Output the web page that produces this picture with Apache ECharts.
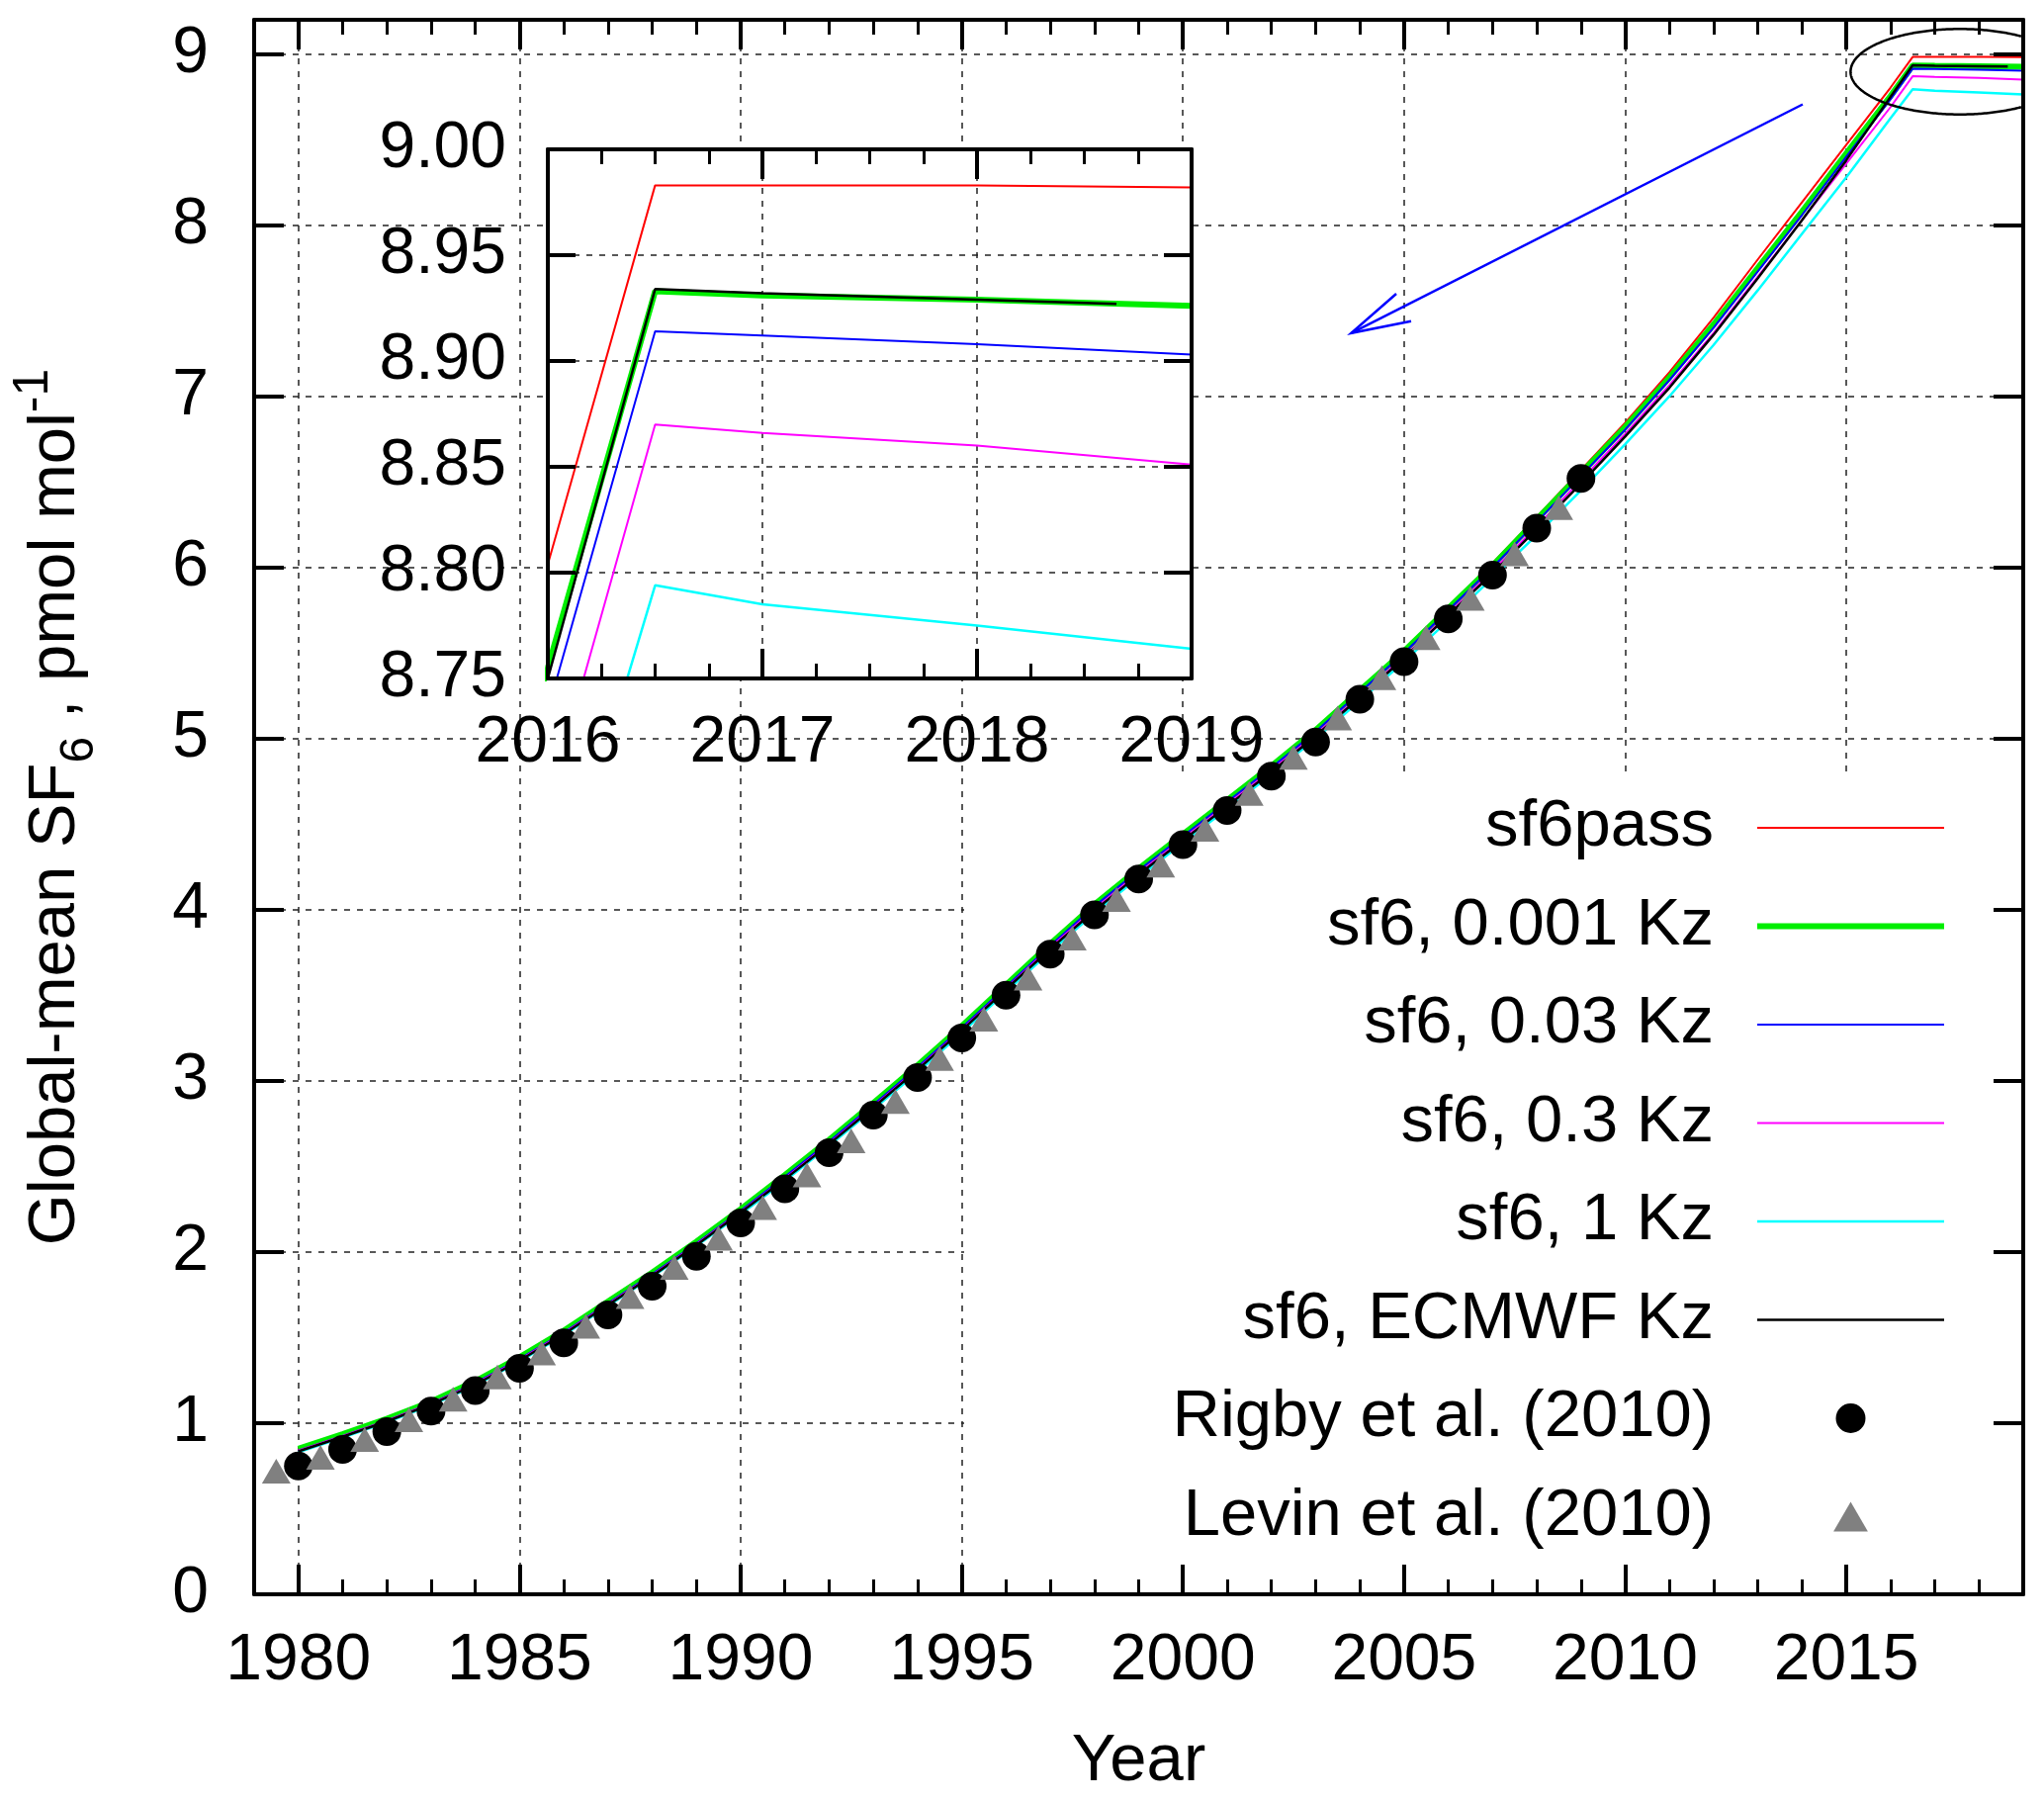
<!DOCTYPE html>
<html>
<head>
<meta charset="utf-8">
<script src="https://cdn.jsdelivr.net/npm/echarts@6.0.0/dist/echarts.min.js"></script>
<style>
html,body{margin:0;padding:0;background:#ffffff;}
#chart{width:2067px;height:1821px;}
</style>
</head>
<body>
<div id="chart"></div>
<script>
// ---------------- data ----------------
const modelYears = [1980,1981,1982,1983,1984,1985,1986,1987,1988,1989,
  1990,1991,1992,1993,1994,1995,1996,1997,1998,1999,
  2000,2001,2002,2003,2004,2005,2006,2007,2008,2009,
  2010,2011,2012,2013,2014,2015,2016,2016.5,2017,2018,2019];
const ecmwfYears = [1980,1981,1982,1983,1984,1985,1986,1987,1988,1989,
  1990,1991,1992,1993,1994,1995,1996,1997,1998,1999,
  2000,2001,2002,2003,2004,2005,2006,2007,2008,2009,
  2010,2011,2012,2013,2014,2015,2016,2016.5,2017,2018,2018.65];

const sf6pass = [0.845,0.93,1.02,1.12,1.24,1.38,1.535,1.705,1.875,2.055,
  2.245,2.445,2.65,2.865,3.085,3.315,3.555,3.795,4.025,4.235,
  4.435,4.635,4.84,5.05,5.28,5.515,5.77,6.025,6.295,6.57,
  6.845,7.14,7.46,7.80,8.135,8.47,8.804,8.983,8.983,8.983,8.982];
const sf6Kz0001 = [0.85,0.935,1.025,1.125,1.245,1.385,1.54,1.71,1.88,2.06,
  2.25,2.45,2.655,2.87,3.09,3.32,3.56,3.80,4.03,4.24,
  4.44,4.64,4.84,5.05,5.28,5.51,5.76,6.01,6.28,6.55,
  6.82,7.11,7.42,7.75,8.08,8.42,8.755,8.933,8.931,8.929,8.926];
const sf6Kz003 = [0.84,0.925,1.015,1.115,1.235,1.375,1.53,1.70,1.87,2.05,
  2.24,2.44,2.645,2.86,3.08,3.31,3.55,3.79,4.02,4.23,
  4.43,4.63,4.83,5.04,5.27,5.50,5.75,6.00,6.265,6.535,
  6.805,7.095,7.40,7.73,8.06,8.40,8.735,8.914,8.912,8.908,8.903];
const sf6Kz03 = [0.84,0.925,1.015,1.115,1.23,1.37,1.525,1.695,1.865,2.045,
  2.235,2.43,2.635,2.85,3.07,3.30,3.54,3.78,4.005,4.215,
  4.415,4.615,4.815,5.025,5.25,5.48,5.73,5.98,6.24,6.51,
  6.78,7.065,7.37,7.70,8.03,8.36,8.69,8.870,8.866,8.860,8.851];
const sf6Kz1 = [0.83,0.915,1.005,1.105,1.22,1.36,1.515,1.685,1.855,2.035,
  2.22,2.415,2.62,2.835,3.05,3.28,3.52,3.755,3.98,4.19,
  4.39,4.59,4.79,5.00,5.22,5.45,5.69,5.94,6.19,6.45,
  6.72,7.00,7.30,7.62,7.95,8.28,8.625,8.794,8.785,8.775,8.764];
const sf6KzEcmwf = [0.835,0.92,1.01,1.11,1.225,1.365,1.52,1.69,1.86,2.04,
  2.23,2.425,2.63,2.845,3.065,3.295,3.535,3.77,3.995,4.205,
  4.405,4.605,4.805,5.015,5.24,5.47,5.72,5.965,6.225,6.49,
  6.765,7.05,7.36,7.69,8.03,8.38,8.75,8.934,8.932,8.929,8.927];

const rigbyYears = [1980,1981,1982,1983,1984,1985,1986,1987,1988,1989,
  1990,1991,1992,1993,1994,1995,1996,1997,1998,1999,
  2000,2001,2002,2003,2004,2005,2006,2007,2008,2009];
const rigbyValues = [0.75,0.846,0.95,1.07,1.19,1.32,1.47,1.633,1.80,1.975,
  2.17,2.37,2.58,2.80,3.02,3.25,3.50,3.74,3.97,4.18,
  4.38,4.58,4.78,4.98,5.23,5.45,5.70,5.955,6.23,6.52];
const levinYears = [1979.5,1980.5,1981.5,1982.5,1983.5,1984.5,1985.5,1986.5,1987.5,1988.5,
  1989.5,1990.5,1991.5,1992.5,1993.5,1994.5,1995.5,1996.5,1997.5,1998.5,
  1999.5,2000.5,2001.5,2002.5,2003.5,2004.5,2005.5,2006.5,2007.5,2008.5];
const levinValues = [0.72,0.80,0.905,1.02,1.14,1.27,1.41,1.566,1.74,1.91,
  2.08,2.26,2.45,2.65,2.88,3.13,3.36,3.60,3.835,4.06,
  4.26,4.47,4.68,4.89,5.12,5.355,5.59,5.82,6.08,6.35];

// tick values
const xMajorTicks = [1980,1985,1990,1995,2000,2005,2010,2015];
const xMinorTicks = [1981,1982,1983,1984,1986,1987,1988,1989,1991,1992,1993,1994,
  1996,1997,1998,1999,2001,2002,2003,2004,2006,2007,2008,2009,2011,2012,2013,2014,2016,2017,2018];
const yTicks = [0,1,2,3,4,5,6,7,8,9];
const insetXTicks = [2016,2017,2018,2019];
const insetYTicks = [8.75,8.80,8.85,8.90,8.95,9.00];

const seriesNames = ['sf6pass','sf6, 0.001 Kz','sf6, 0.03 Kz','sf6, 0.3 Kz','sf6, 1 Kz','sf6, ECMWF Kz','Rigby et al. (2010)','Levin et al. (2010)'];

// ---------------- helpers ----------------
const FONT = '"Liberation Sans", Arial, Helvetica, sans-serif';
const pair = (xs, ys) => xs.map((x, i) => [x, ys[i]]);
const gridDash = {color: '#222', width: 1.5, type: [6, 7]};

function tickAxis(base) {
  return Object.assign({
    type: 'value', show: true, z: 5,
    axisLine: {show: true, onZero: false, lineStyle: {color: '#000', width: 4}},
    axisTick: {show: false},
    axisLabel: {show: false},
    splitLine: {show: false},
    minorTick: {show: false},
    minorSplitLine: {show: false}
  }, base);
}
function majorTick(values, len) {
  return {show: true, inside: true, length: len, customValues: values, lineStyle: {color: '#000', width: 4}};
}
function minorTickOpt(values, len) {
  return {show: true, inside: true, length: len, customValues: values, lineStyle: {color: '#000', width: 3}};
}
const labelStyle = {show: true, color: '#000', fontSize: 66, fontFamily: FONT};

// ---------------- axes ----------------
const xAxes = [
  // 0 main bottom: labels + major ticks + border + name
  tickAxis({gridIndex: 0, position: 'bottom', min: 1979, max: 2019,
    axisTick: majorTick(xMajorTicks, 30),
    axisLabel: Object.assign({customValues: xMajorTicks, margin: 35, formatter: v => String(v)}, labelStyle),
    name: 'Year', nameLocation: 'middle', nameGap: 136,
    nameTextStyle: {color: '#000', fontSize: 67, fontFamily: FONT}}),
  // 1 main bottom minor ticks
  tickAxis({gridIndex: 0, position: 'bottom', min: 1979, max: 2019,
    axisLine: {show: false, onZero: false}, axisTick: minorTickOpt(xMinorTicks, 15)}),
  // 2 main top major
  tickAxis({gridIndex: 0, position: 'top', min: 1979, max: 2019,
    axisTick: majorTick(xMajorTicks, 30)}),
  // 3 main top minor
  tickAxis({gridIndex: 0, position: 'top', min: 1979, max: 2019,
    axisLine: {show: false, onZero: false}, axisTick: minorTickOpt(xMinorTicks, 15)}),
  // 4 main vertical grid lines
  tickAxis({gridIndex: 0, position: 'bottom', min: 1979, max: 2019, z: 0,
    axisLine: {show: false, onZero: false},
    axisTick: {show: false, customValues: xMajorTicks},
    axisLabel: {show: false, customValues: xMajorTicks},
    splitLine: {show: true, lineStyle: gridDash}}),
  // 5 inset bottom
  tickAxis({gridIndex: 1, position: 'bottom', min: 2016, max: 2019, interval: 1,
    axisTick: {show: true, inside: true, length: 30, lineStyle: {color: '#000', width: 4}},
    minorTick: {show: true, splitNumber: 4, length: 15, lineStyle: {color: '#000', width: 3}},
    axisLabel: Object.assign({customValues: insetXTicks, margin: 33, formatter: v => String(v)}, labelStyle)}),
  // 6 inset top
  tickAxis({gridIndex: 1, position: 'top', min: 2016, max: 2019, interval: 1,
    axisTick: {show: true, inside: true, length: 30, lineStyle: {color: '#000', width: 4}},
    minorTick: {show: true, splitNumber: 4, length: 15, lineStyle: {color: '#000', width: 3}}}),
  // 7 inset vertical grid lines
  tickAxis({gridIndex: 1, position: 'bottom', min: 2016, max: 2019, interval: 1, z: 3,
    axisLine: {show: false, onZero: false},
    splitLine: {show: true, lineStyle: gridDash}})
];

const yAxes = [
  // 0 main left
  tickAxis({gridIndex: 0, position: 'left', min: 0, max: 9.2,
    axisTick: majorTick(yTicks, 30),
    axisLabel: Object.assign({customValues: yTicks, margin: 46}, labelStyle)}),
  // 1 main right
  tickAxis({gridIndex: 0, position: 'right', min: 0, max: 9.2,
    axisTick: majorTick(yTicks, 30)}),
  // 2 main horizontal grid lines
  tickAxis({gridIndex: 0, position: 'left', min: 0, max: 9.2, interval: 1, z: 0,
    axisLine: {show: false, onZero: false},
    splitLine: {show: true, lineStyle: gridDash}}),
  // 3 inset left
  tickAxis({gridIndex: 1, position: 'left', min: 8.75, max: 9.0, interval: 0.05,
    axisTick: {show: true, inside: true, length: 28, lineStyle: {color: '#000', width: 4}},
    axisLabel: Object.assign({customValues: insetYTicks, margin: 42, formatter: v => v.toFixed(2)}, labelStyle)}),
  // 4 inset right
  tickAxis({gridIndex: 1, position: 'right', min: 8.75, max: 9.0, interval: 0.05,
    axisTick: {show: true, inside: true, length: 28, lineStyle: {color: '#000', width: 4}}}),
  // 5 inset horizontal grid lines
  tickAxis({gridIndex: 1, position: 'left', min: 8.75, max: 9.0, interval: 0.05, z: 3,
    axisLine: {show: false, onZero: false},
    splitLine: {show: true, lineStyle: gridDash}})
];

// ---------------- series ----------------
const lineDefs = [
  {name: seriesNames[0], xs: modelYears, ys: sf6pass, color: '#ff0000', width: 2},
  {name: seriesNames[1], xs: modelYears, ys: sf6Kz0001, color: '#00ee00', width: 6},
  {name: seriesNames[2], xs: modelYears, ys: sf6Kz003, color: '#0000ff', width: 2},
  {name: seriesNames[3], xs: modelYears, ys: sf6Kz03, color: '#ff00ff', width: 2},
  {name: seriesNames[4], xs: modelYears, ys: sf6Kz1, color: '#00ffff', width: 2.5},
  {name: seriesNames[5], xs: ecmwfYears, ys: sf6KzEcmwf, color: '#000000', width: 2.5}
];
const series = [];
lineDefs.forEach(d => {
  series.push({
    type: 'line', name: d.name, xAxisIndex: 0, yAxisIndex: 0, z: 2,
    data: pair(d.xs, d.ys), symbol: 'none', smooth: false,
    color: d.color, lineStyle: {color: d.color, width: d.width}
  });
});
series.push({
  type: 'scatter', name: seriesNames[6], xAxisIndex: 0, yAxisIndex: 0, z: 2,
  data: pair(rigbyYears, rigbyValues), symbol: 'circle', symbolSize: 29,
  itemStyle: {color: '#000000', opacity: 1}, color: '#000000'
});
series.push({
  type: 'scatter', name: seriesNames[7], xAxisIndex: 0, yAxisIndex: 0, z: 2,
  data: pair(levinYears, levinValues), symbol: 'triangle', symbolSize: [29, 25], symbolKeepAspect: false,
  itemStyle: {color: '#808080', opacity: 1}, color: '#808080'
});
lineDefs.forEach(d => {
  series.push({
    type: 'line', name: d.name, xAxisIndex: 5, yAxisIndex: 3, z: 4,
    data: pair(d.xs, d.ys), symbol: 'none', smooth: false, clip: true,
    color: d.color, lineStyle: {color: d.color, width: d.width}
  });
});

// legend entries: line samples drawn as thin bars, markers as symbols
const legendData = lineDefs.map(d => ({
  name: d.name,
  icon: 'path://M0,0H189V' + d.width + 'H0Z',
  itemStyle: {color: d.color, opacity: 1}
}));
legendData.push({name: seriesNames[6], icon: 'circle', itemStyle: {color: '#000000', opacity: 1}});
legendData.push({name: seriesNames[7], icon: 'path://M0,25L14.5,0L29,25Z', itemStyle: {color: '#808080', opacity: 1}});

// ---------------- annotations (pixel space) ----------------
const ellipsePts = [];
(function () {
  const cx = 1982, cy = 72.5, rx = 110.6, ry = 43.2, xmax = 2045;
  for (let k = 0; k <= 360; k++) {
    const t = k * Math.PI / 180;
    const px = cx + rx * Math.cos(t), py = cy + ry * Math.sin(t);
    if (px <= xmax) ellipsePts.push([px, py]);
  }
  let cut = 0;
  for (let i = 1; i < ellipsePts.length; i++) {
    const a = ellipsePts[i - 1], b = ellipsePts[i];
    if (Math.hypot(a[0] - b[0], a[1] - b[1]) > 10) { cut = i; break; }
  }
  if (cut) { const head = ellipsePts.splice(0, cut); ellipsePts.push(...head); }
})();

const graphics = [
  {type: 'rect', z: 1, silent: true, shape: {x: 975, y: 783, width: 1069, height: 827}, style: {fill: '#ffffff'}},
  {type: 'rect', z: 1, silent: true, shape: {x: 554, y: 151, width: 651, height: 535}, style: {fill: '#ffffff'}},
  {type: 'polyline', z: 6, silent: true, shape: {points: ellipsePts}, style: {stroke: '#000', lineWidth: 2.5, fill: null}},
  {type: 'line', z: 6, silent: true, shape: {x1: 1823, y1: 105.5, x2: 1366.4, y2: 336.8}, style: {stroke: '#0000ff', lineWidth: 2.5}},
  {type: 'polyline', z: 6, silent: true, shape: {points: [[1412, 297], [1366.4, 336.8], [1427, 324.7]]}, style: {stroke: '#0000ff', lineWidth: 2.5, fill: null}},
  {type: 'text', z: 6, silent: true, x: 57, y: 816, rotation: Math.PI / 2,
    style: {
      text: '{n|Global-mean SF}{sub|6}{n| , pmol mol}{sup|-1}',
      align: 'center', verticalAlign: 'middle', fill: '#000', font: '67px ' + FONT,
      rich: {
        n: {fontSize: 67, fontFamily: FONT, lineHeight: 96, verticalAlign: 'middle', fill: '#000'},
        sub: {fontSize: 48, fontFamily: FONT, lineHeight: 44, verticalAlign: 'bottom', fill: '#000'},
        sup: {fontSize: 50, fontFamily: FONT, lineHeight: 61, verticalAlign: 'top', fill: '#000'}
      }
    }}
];

// ---------------- chart ----------------
const chart = echarts.init(document.getElementById('chart'), null, {renderer: 'canvas'});
chart.setOption({
  animation: false,
  backgroundColor: '#ffffff',
  textStyle: {fontFamily: FONT},
  grid: [
    {left: 257, top: 20, width: 1789, height: 1592, outerBoundsMode: 'none', containLabel: false},
    {left: 554, top: 151, width: 651, height: 535, outerBoundsMode: 'none', containLabel: false}
  ],
  xAxis: xAxes,
  yAxis: yAxes,
  legend: {
    show: true, orient: 'vertical', align: 'right', right: 101, top: 803.5, padding: 0,
    itemWidth: 189, itemHeight: 30, itemGap: 32.5, selectedMode: false, symbolKeepAspect: true,
    data: legendData,
    textStyle: {color: '#000', fontSize: 67, fontFamily: FONT, lineHeight: 67, padding: [0, 39, 0, 0]}
  },
  graphic: graphics,
  series: series
});
</script>
</body>
</html>
